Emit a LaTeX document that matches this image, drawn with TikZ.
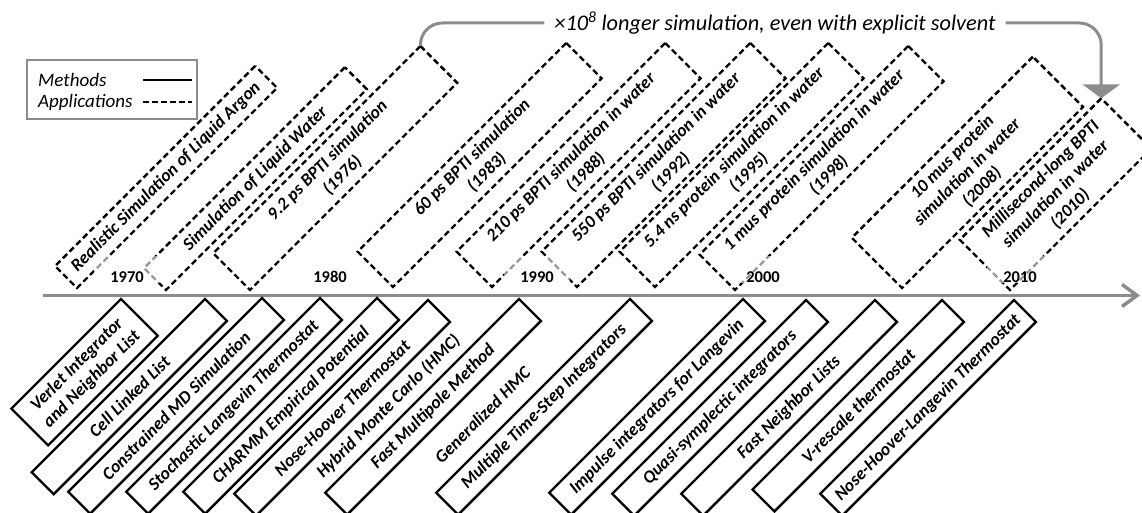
\documentclass[tikz,border=0pt]{standalone}
\usepackage{fontspec}
\setmainfont{Carlito}
\usetikzlibrary{arrows.meta}

\definecolor{axisgray}{RGB}{140,140,140}

\tikzset{
  boxfont/.style={font=\fontsize{17.7}{21}\selectfont\bfseries\itshape},
  method/.style={draw, line width=2.4pt, rotate=45, anchor=north east,
    minimum width=274pt, minimum height=31pt, inner sep=0pt, outer sep=0pt,
    align=center, boxfont},
  methodtext/.style={rotate=45, inner sep=0pt, align=center, boxfont},
  application/.style={draw, line width=2.4pt, dash pattern=on 6pt off 3.5pt,
    rotate=45, anchor=south west, minimum width=295pt, minimum height=50pt,
    inner sep=0pt, outer sep=0pt, align=center, boxfont},
  year/.style={anchor=base, font=\fontsize{16.5}{20}\selectfont\bfseries,
    text height=27pt, text depth=0pt, inner xsep=16pt, inner ysep=0pt,
    fill=white, fill opacity=0.6, text opacity=1},
  legendtext/.style={anchor=west, inner sep=0pt,
    font=\fontsize{19}{22}\selectfont\itshape},
  gainline/.style={draw=axisgray, line width=3pt, rounded corners=22pt},
}

\begin{document}
\begin{tikzpicture}[x=1pt, y=1pt]
  \useasboundingbox (0,0) rectangle (1142,513);

  % legend
  \node[draw=axisgray, line width=2.5pt, minimum width=170pt, minimum height=59pt] (legend) at (112,423.5) {};
  \node[legendtext] (methods) at (38,433) {Methods};
  \node[legendtext] (applications) at (38,411) {Applications};
  \draw[line width=2.8pt] (143,433) -- (192,433);
  \draw[line width=2.8pt, dash pattern=on 6pt off 3pt] (143,411) -- (192,411);

  % applications
  \node[application, minimum width=283pt, minimum height=31pt] (argon) at (77,225) {Realistic Simulation of Liquid Argon};
  \node[application, minimum width=284pt, minimum height=31pt] (water) at (166,223) {Simulation of Liquid Water};
  \node[application, minimum width=293pt, minimum height=52pt] (bpti92) at (250,223) {9.2 ps BPTI simulation\\(1976)};
  \node[application] (bpti60) at (393,226) {60 ps BPTI simulation\\(1983)};
  \node[application] (bpti210) at (492,226) {210 ps BPTI simulation in water\\(1988)};
  \node[application] (bpti550) at (577,226) {550 ps BPTI simulation in water\\(1992)};
  \node[application] (protein54) at (655,226) {5.4 ns protein simulation in water\\(1995)};
  \node[application] (protein1) at (735,223) {1 mus protein simulation in water\\(1998)};
  \node[application, minimum width=256pt, minimum height=71pt] (protein10) at (902,225) {10 mus protein\\simulation in water\\(2008)};
  \node[application, minimum width=200pt, minimum height=71pt] (msbpti) at (1010,223) {Millisecond-long BPTI\\simulation in water\\(2010)};

  % gain arrow
  \node[inner sep=10pt, font=\fontsize{22.3}{26}\selectfont\itshape] (gain) at (775,490) {×10\textsuperscript{8} longer simulation, even with explicit solvent};
  \draw[gainline] (bpti92.north east) |- (gain.west);
  \draw[gainline, -{Triangle[width=37pt, length=14pt]}] (gain.east) -| (msbpti.north east);

  % time axis
  \coordinate (t0) at (43,217.5);
  \coordinate (t1) at (1140,217.5);
  \draw[axisgray, line width=3.5pt, -{Straight Barb[length=15pt, width=22pt]}] (t0) -- (t1);

  \node[year] (y1970) at (127,230) {1970};
  \node[year] (y1980) at (330,230) {1980};
  \node[year] (y1990) at (537,230) {1990};
  \node[year] (y2000) at (763,230) {2000};
  \node[year] (y2010) at (1020,230) {2010};

  % methods
  \node[method, minimum width=155pt, minimum height=52pt] (verlet) at (121,214) {Verlet Integrator\\and Neighbor List};
  \node[method, minimum width=245pt] (celllist) at (205,214) {Cell Linked List};
  \node[method] (constrained) at (262,215) {Constrained MD Simulation};
  \node[method] (langevin) at (320,215) {Stochastic Langevin Thermostat};
  \node[method] (charmm) at (377,215) {CHARMM Empirical Potential};
  \node[method] (nosehoover) at (428,213) {Nose-Hoover Thermostat};
  \node[methodtext] (hmc) at (388.5,106.5) {Hybrid Monte Carlo (HMC)};
  \node[method] (fmm) at (519,214) {Fast Multipole Method};
  \node[methodtext] (ghmc) at (482.5,98) {Generalized HMC};
  \node[method] (mts) at (630,214) {Multiple Time-Step Integrators};
  \node[method] (impulse) at (743,214) {Impulse integrators for Langevin};
  \node[method] (quasi) at (806,213) {Quasi-symplectic integrators};
  \node[method] (fastnl) at (875,213) {Fast Neighbor Lists};
  \node[method, minimum width=268pt] (vrescale) at (942,213) {V-rescale thermostat};
  \node[method] (nhl) at (1014,213) {Nose-Hoover-Langevin Thermostat};
\end{tikzpicture}
\end{document}
